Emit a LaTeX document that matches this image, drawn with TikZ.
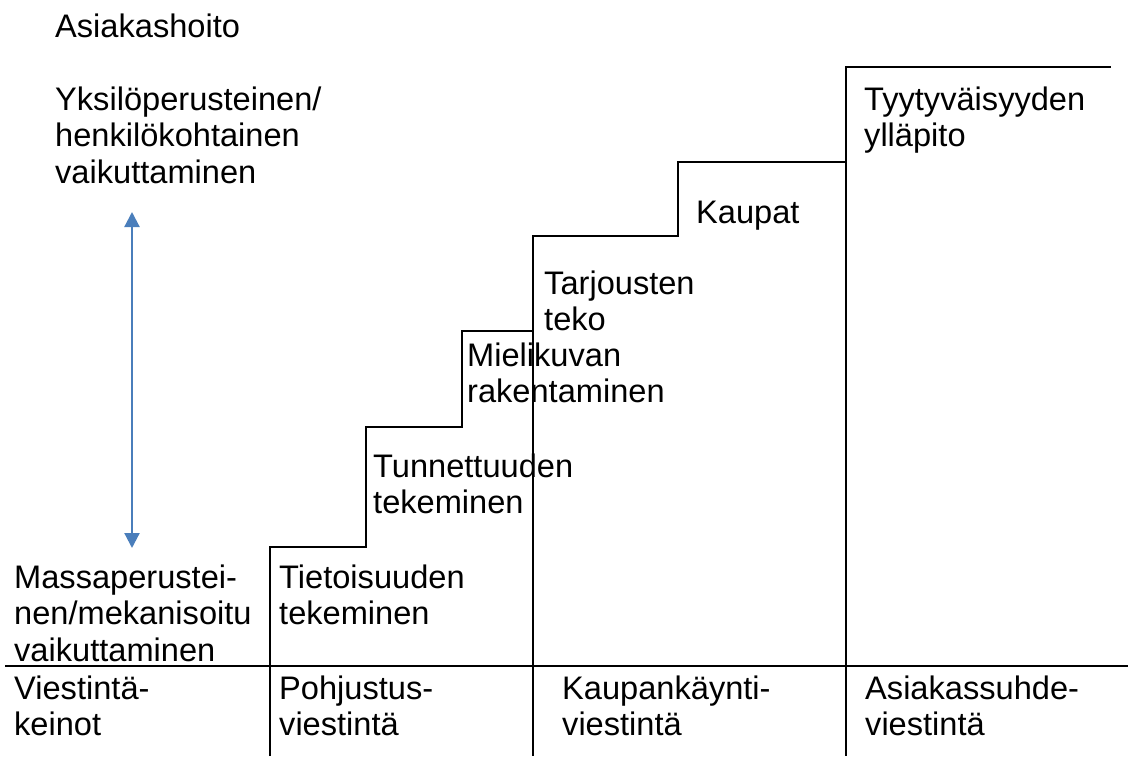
\documentclass[tikz,border=0pt]{standalone}
\usepackage{fontspec}
\setmainfont{Liberation Sans}
\usetikzlibrary{arrows.meta}
% left-aligned block whose baseline is that of its first line
\newcommand\lblstack[1]{\vtop{\halign{##\hfil\cr#1\crcr}}}
\begin{document}
\begin{tikzpicture}[x=1pt,y=-1pt,
  lbl/.style={anchor=base west,inner sep=0pt,font=\fontsize{32.6}{36.7}\selectfont},
  stair/.style={line width=2pt,line join=miter,black},
  scale arrow/.style={line width=2.2pt,draw={rgb,255:red,74;green,126;blue,187},
    {Triangle[length=15pt,width=15pt]}-{Triangle[length=15pt,width=15pt]}}]
\useasboundingbox (0,0) rectangle (1128,756);

% staircase of the communication stages
\draw[stair] (270,756) -- (270,547) -- (366,547) -- (366,427) -- (462,427)
  -- (462,331) -- (533,331) -- (533,236) -- (678,236) -- (678,162)
  -- (846,162) -- (846,67) -- (1111,67);
\draw[stair] (533,331) -- (533,756);
\draw[stair] (846,162) -- (846,756);
% row divider above the bottom labels
\draw[stair] (5,666) -- (1128,666);

% mass vs. individual scale
\coordinate (hi) at (132,212);
\coordinate (lo) at (132,548);
\draw[scale arrow] (hi) -- (lo);

% left column
\node[lbl] (care) at (55,37) {Asiakashoito};
\node[lbl] (indiv) at (55,110) {\lblstack{Yksilöperusteinen/\cr henkilökohtainen\cr vaikuttaminen}};
\node[lbl] (mass) at (14,588) {\lblstack{Massaperustei-\cr nen/mekanisoitu\cr vaikuttaminen}};

% stair labels
\node[lbl] (s1) at (279,588) {\lblstack{Tietoisuuden\cr tekeminen}};
\node[lbl] (s2) at (373,477) {\lblstack{Tunnettuuden\cr tekeminen}};
\node[lbl] (s3) at (467,366) {\lblstack{Mielikuvan\cr rakentaminen}};
\node[lbl] (s4) at (544,294) {\lblstack{Tarjousten\cr teko}};
\node[lbl] (s5) at (696,223) {Kaupat};
\node[lbl] (s6) at (864,110) {\lblstack{Tyytyväisyyden\cr ylläpito}};

% bottom row
\node[lbl] (b0) at (14,699) {\lblstack{Viestintä-\cr keinot}};
\node[lbl] (b1) at (279,699) {\lblstack{Pohjustus-\cr viestintä}};
\node[lbl] (b2) at (562,699) {\lblstack{Kaupankäynti-\cr viestintä}};
\node[lbl] (b3) at (865,699) {\lblstack{Asiakassuhde-\cr viestintä}};
\end{tikzpicture}
\end{document}
